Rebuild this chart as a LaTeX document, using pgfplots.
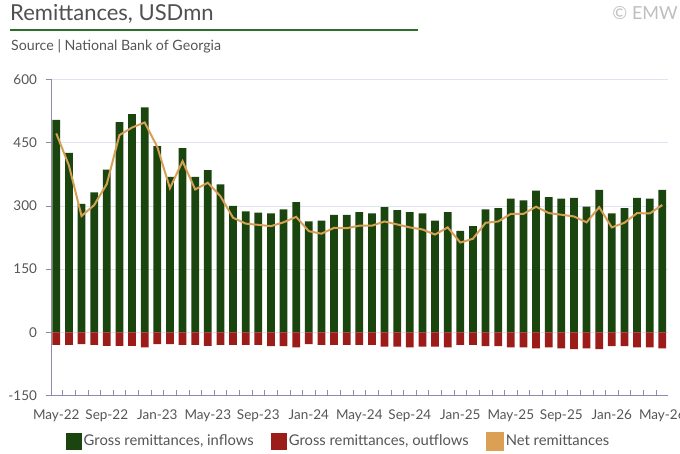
\documentclass[border=0pt]{standalone}
\usepackage{fontspec}
\setmainfont{Lato}
\usepackage{pgfplots}
\usepackage{pgfplotstable}
\pgfplotsset{compat=1.18}
\definecolor{inflow}{RGB}{27,69,15}
\definecolor{outflow}{RGB}{155,28,24}
\definecolor{nettan}{RGB}{214,160,84}
\definecolor{netleg}{RGB}{220,160,85}
\definecolor{titlegray}{RGB}{80,80,80}
\definecolor{txtgray}{RGB}{85,85,85}
\definecolor{emwgray}{RGB}{190,190,190}
\definecolor{titlegreen}{RGB}{46,110,42}
\definecolor{gridc}{RGB}{222,227,240}
\definecolor{axisc}{RGB}{140,140,170}

\pgfplotstableread{
x in out net
1 504 -30 472
2 426 -30 396
3 305 -28 276
4 332 -30 302
5 386 -32 352
6 499 -32 468
7 518 -32 486
8 534 -36 498
9 442 -28 440
10 369 -28 342
11 437 -30 406
12 369 -30 339
13 385 -32 355
14 351 -30 323
15 300 -30 272
16 287 -30 258
17 284 -30 255
18 282 -33 252
19 292 -33 261
20 309 -36 274
21 263 -28 240
22 265 -30 234
23 279 -30 248
24 279 -30 247
25 285 -30 253
26 282 -30 253
27 297 -34 263
28 290 -34 256
29 285 -36 249
30 282 -34 244
31 265 -34 232
32 285 -36 249
33 241 -30 213
34 252 -30 222
35 292 -33 260
36 295 -33 263
37 317 -36 281
38 313 -36 281
39 336 -38 298
40 321 -36 283
41 317 -38 279
42 319 -40 275
43 298 -38 261
44 338 -40 297
45 282 -33 249
46 295 -33 260
47 319 -36 283
48 317 -36 282
49 338 -38 302
}\data

\begin{document}
\begin{tikzpicture}
\draw[white, line width=0pt] (0pt,0pt) rectangle (680pt,453pt);
\node[anchor=base west, inner sep=0, font=\fontsize{22}{26}\selectfont, text=titlegray] at (10pt,432pt) {Remittances, USDmn};
\draw[titlegreen, line width=2pt] (10pt,423pt) -- (418pt,423pt);
\node[anchor=base west, inner sep=0, font=\fontsize{14.2}{16}\selectfont, text=txtgray] at (11pt,402pt) {Source | National Bank of Georgia};
\node[anchor=base east, inner sep=0, font=\fontsize{18}{20}\selectfont, text=emwgray] at (678pt,433pt) {© EMW};
\begin{axis}[
  at={(51.5pt,57.5pt)}, anchor=south west,
  width=616.5pt, height=316pt, scale only axis,
  xmin=0.62, xmax=49.45, ymin=-150, ymax=600,
  ytick={-150,0,150,300,450,600},
  xtick={1,5,...,49},
  xticklabels={May-22,Sep-22,Jan-23,May-23,Sep-23,Jan-24,May-24,Sep-24,Jan-25,May-25,Sep-25,Jan-26,May-26},
  minor xtick={1.5,2.5,...,49.5},
  axis x line*=bottom, axis y line*=left,
  axis line style={axisc, line width=0.8pt},
  tick align=inside,
  major tick length=6pt, minor tick length=6pt,
  major x tick style={draw=none},
  minor x tick style={axisc, line width=0.6pt},
  ytick style={axisc, line width=0.6pt, xshift=-6pt},
  ymajorgrids, grid style={gridc, line width=0.7pt},
  tick label style={font=\fontsize{13.5}{15}\selectfont, text=txtgray},
  /pgf/number format/assume math mode=true,
  yticklabel style={xshift=-11pt},
  xticklabel style={yshift=-11pt},
  clip=false,
  legend style={at={(0.4655,-0.144)}, anchor=center, draw=none, fill=none,
    font=\fontsize{14.8}{16}\selectfont, text=txtgray,
    /tikz/every even column/.append style={column sep=15pt}},
  legend columns=3, legend cell align=left,
]
\addplot[ybar, bar width=7.7pt, bar shift=0pt, fill=inflow, draw=none,
  legend image code/.code={\fill[inflow] (0pt,-8.5pt) rectangle (16pt,8.5pt);}]
  table[x=x,y=in]{\data};
\addlegendentry{Gross remittances, inflows}
\addplot[ybar, bar width=7.7pt, bar shift=0pt, fill=outflow, draw=none,
  legend image code/.code={\fill[outflow] (0pt,-8.5pt) rectangle (16pt,8.5pt);}]
  table[x=x,y=out]{\data};
\addlegendentry{Gross remittances, outflows}
\addplot[nettan, line width=2pt, no markers, sharp plot,
  legend image code/.code={\fill[netleg] (0pt,-8.5pt) rectangle (16pt,8.5pt);}]
  table[x=x,y=net]{\data};
\addlegendentry{Net remittances}
\end{axis}
\pgfresetboundingbox
\useasboundingbox (0pt,0pt) rectangle (680pt,453pt);
\end{tikzpicture}
\end{document}
